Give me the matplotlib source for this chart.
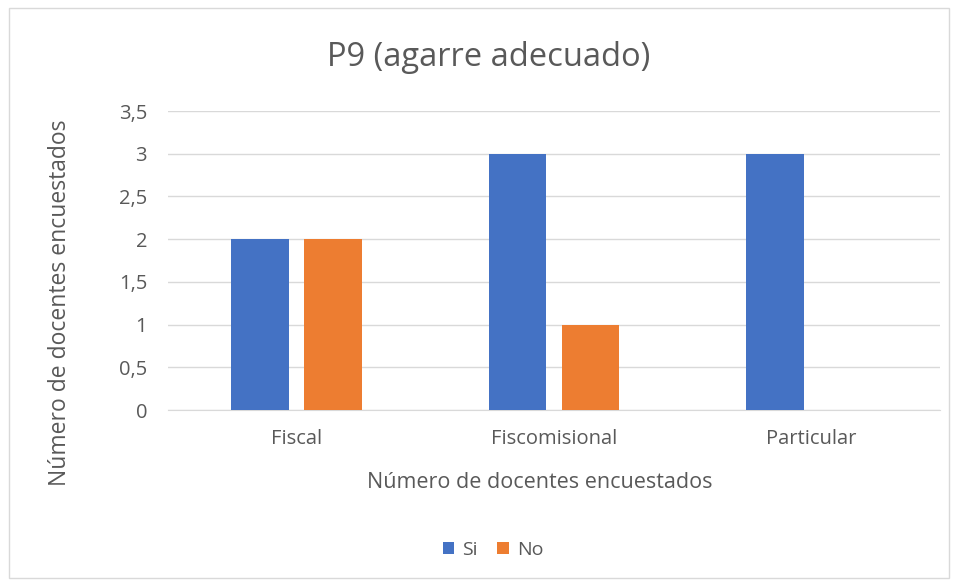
import numpy as np
import matplotlib.pyplot as plt
from matplotlib.patches import Rectangle

plt.rcParams['font.family'] = ['Open Sans', 'DejaVu Sans']

# datos
categorias = ['Fiscal', 'Fiscomisional', 'Particular']
si = [2, 3, 3]
no = [2, 1, 0]
ticks_y = [0, 0.5, 1, 1.5, 2, 2.5, 3, 3.5]
etiquetas_y = ['0', '0,5', '1', '1,5', '2', '2,5', '3', '3,5']

gris = '#595959'

fig = plt.figure(figsize=(9.54, 5.82), dpi=100)
ax = fig.add_axes([168 / 954, 1 - 410 / 582, (940 - 168) / 954, (410 - 111) / 582])

x = np.arange(len(categorias))
ancho = 0.225
ax.bar(x - 0.142, si, ancho, color='#4472C4', label='Si', zorder=3)
ax.bar(x + 0.142, no, ancho, color='#ED7D31', label='No', zorder=3)

ax.set_xlim(-0.5, 2.5)
ax.set_ylim(0, 3.5)
ax.set_yticks(ticks_y)
ax.set_yticklabels(etiquetas_y)
ax.set_xticks(x)
ax.set_xticklabels(categorias)
ax.yaxis.grid(True, color='#D9D9D9', linewidth=1, zorder=0)
ax.tick_params(axis='both', length=0, labelsize=14.5, labelcolor=gris)
ax.tick_params(axis='x', pad=14)
ax.tick_params(axis='y', pad=15)
for s in ['top', 'right', 'left']:
    ax.spines[s].set_visible(False)
ax.spines['bottom'].set_color('#D9D9D9')

# titulos de ejes
fig.text(540 / 954, 1 - 482 / 582, 'Número de docentes encuestados', fontsize=15.5, color=gris,
         ha='center', va='center')
fig.text(60 / 954, 1 - 303 / 582, 'Número de docentes encuestados', fontsize=16.5, color=gris,
         ha='center', va='center', rotation=90)
fig.text(489 / 954, 1 - 58 / 582, 'P9 (agarre adecuado)', fontsize=23.5, color=gris,
         ha='center', va='center')

fig.legend(loc='center', bbox_to_anchor=(493 / 954, 1 - 550 / 582), ncol=2, frameon=False,
           fontsize=14, labelcolor=gris, handlelength=0.6, handleheight=0.6,
           columnspacing=1.0, handletextpad=0.4)

fig.patches.append(Rectangle((9 / 954, 4 / 582), 940 / 954, 570 / 582, transform=fig.transFigure,
                             fill=False, edgecolor='#D9D9D9', linewidth=1))

plt.savefig('out.png', dpi=100)
